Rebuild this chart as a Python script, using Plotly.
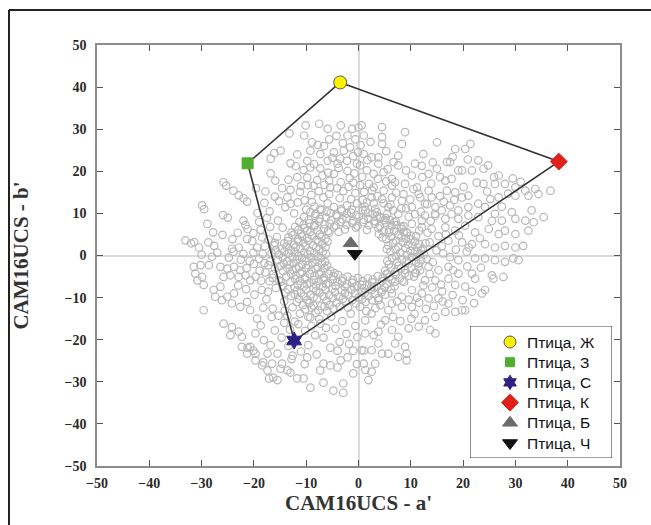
import plotly.graph_objects as go

# ---------------- data ----------------
ring_pts = [
    (-9.2,10.3),(-7.1,10.8),(-5.3,10.1),(-3.2,10.6),(-1.4,10.2),(0.8,10.7),(2.7,9.9),
    (-10.4,9.1),(-8.3,9.4),(-6.2,9.0),(-4.1,9.3),(-2.3,8.8),(0.1,9.2),(1.9,8.7),(4.2,9.0),(6.0,8.4),
    (-11.3,8.0),(-9.4,7.7),(-7.6,8.1),(-5.5,7.6),(-3.4,8.0),(-1.2,7.7),(0.9,7.9),(3.1,7.5),(5.2,7.8),(7.3,7.2),
    (-12.1,6.8),(-10.3,6.5),(-8.5,6.9),(-6.6,6.3),(-4.7,6.7),(-2.6,6.2),(-0.5,6.6),(1.6,6.1),(3.8,6.5),(5.9,6.0),(8.1,6.4),
    (-12.8,5.5),(-11.0,5.2),(-9.2,5.6),(-7.4,5.0),(-5.6,5.4),(3.9,5.1),(5.8,5.5),(7.6,4.9),(9.3,5.3),
    (-13.4,4.3),(-11.6,3.9),(-9.8,4.2),(-8.0,3.7),(-6.3,4.0),
    (-14.2,2.9),(-12.4,2.6),(-10.5,3.0),(-8.7,2.4),(-6.9,2.8),
    (-14.6,1.6),(-12.9,1.3),(-11.1,1.7),(-9.3,1.1),(-7.5,1.5),
    (-15.2,0.2),(-13.3,0.5),(-11.5,-0.1),(-9.7,0.3),(-7.8,-0.2),(-6.2,0.4),
    (-15.4,-1.1),(-13.6,-1.4),(-11.8,-0.9),(-10.0,-1.3),(-8.2,-1.0),(-6.4,-1.5),
    (-15.0,-2.5),(-13.2,-2.2),(-11.4,-2.7),(-9.6,-2.3),(-7.8,-2.8),(-6.0,-2.4),
    (-14.4,-3.7),(-12.6,-3.4),(-10.8,-3.9),(-9.0,-3.5),(-7.2,-4.0),(-5.4,-3.6),
    (-13.8,-5.0),(-12.0,-4.7),(-10.2,-5.2),(-8.4,-4.8),(-6.6,-5.3),(-4.8,-4.9),(-3.0,-5.4),(-1.1,-5.8),(0.8,-6.1),(2.7,-5.7),(4.6,-5.3),
    (-13.0,-6.3),(-11.2,-6.0),(-9.4,-6.5),(-7.6,-6.1),(-5.8,-6.6),(-4.0,-6.2),(-2.2,-6.8),(-0.3,-7.2),(1.6,-6.9),(3.5,-7.3),(5.4,-6.8),(7.0,-6.2),
    (-12.2,-7.6),(-10.4,-7.3),(-8.6,-7.8),(-6.8,-7.4),(-5.0,-7.9),(-3.2,-8.3),(-1.3,-8.1),(0.6,-8.6),(2.5,-8.2),(4.4,-8.7),(6.2,-8.0),
    (-11.0,-8.9),(-9.2,-9.3),(-7.4,-8.8),(-5.6,-9.4),(-3.8,-9.8),(-1.9,-9.5),(0.0,-10.0),(1.9,-9.6),(3.8,-10.1),
    (-9.8,-10.6),(-7.9,-10.2),(-6.1,-10.8),(-4.2,-11.2),(-2.4,-10.9),(-0.5,-11.4),(1.4,-11.0),
    (5.3,3.9),(7.2,3.5),(9.1,4.0),(10.8,3.3),
    (5.7,2.4),(7.6,2.1),(9.5,2.6),(11.3,1.9),
    (6.1,0.9),(8.0,0.6),(9.9,1.1),(11.7,0.4),
    (6.4,-0.6),(8.3,-0.9),(10.2,-0.4),(12.0,-1.1),
    (5.8,-2.1),(7.7,-2.4),(9.6,-1.9),(11.5,-2.6),
    (5.1,-3.6),(7.0,-3.9),(8.9,-3.4),(10.8,-4.1),
    (6.0,-5.0),(7.9,-5.4),(9.6,-4.8),
    (-14.8,-6.2),(-13.5,-8.0),(-12.9,-9.6),(-11.4,-10.3),(-10.6,-11.8),(-9.0,-12.4),(-8.2,-13.6),(-7.1,-12.0),
    (-6.0,-13.2),(-4.8,-12.6),(-16.3,-4.4),(-17.0,-6.1),(-15.8,-7.7),(-14.2,-10.9),(-12.6,-12.3),(-11.2,-13.8),
    (-9.6,-14.6),(-7.5,-15.1),(-17.2,-2.3),(-16.6,0.5),(-17.8,-4.0),
]

ring_inner_pts = [
    (-8.2,9.9),(-6.1,10.4),(-4.2,9.7),(-2.2,10.0),(-0.4,9.6),(1.8,10.1),(3.5,9.4),(5.2,8.9),
    (-9.5,8.5),(-7.4,8.7),(-5.2,8.4),(-3.1,8.6),(-1.0,8.3),(1.0,8.5),(3.0,8.2),(5.0,8.4),(6.8,7.9),
    (-10.5,7.3),(-8.4,7.2),(-6.5,7.4),(-4.4,7.1),(-2.3,7.3),(-0.2,7.0),(2.0,7.2),(4.1,7.0),(6.3,7.1),(8.2,6.8),
    (-11.5,6.1),(-9.8,5.9),(-7.9,6.0),(-5.8,5.8),(-3.8,5.6),(4.8,5.7),(6.8,5.8),(8.6,5.6),(10.0,4.7),
    (-12.6,4.8),(-10.8,4.5),(-8.9,4.7),(-7.1,4.4),
    (-13.5,3.4),(-11.5,3.3),(-9.6,3.5),(-7.7,3.2),(-5.9,3.3),
    (-13.8,2.1),(-12.0,2.0),(-10.1,2.2),(-8.1,1.9),(-6.3,2.0),
    (-14.2,0.9),(-12.2,0.8),(-10.4,0.7),(-8.5,0.6),(-6.8,0.9),
    (-14.5,-0.5),(-12.6,-0.4),(-10.8,-0.6),(-9.0,-0.5),(-7.2,-0.6),
    (-14.3,-1.9),(-12.4,-1.8),(-10.7,-2.0),(-8.8,-1.7),(-7.0,-1.9),
    (-13.6,-3.0),(-11.9,-3.1),(-10.0,-3.0),(-8.2,-3.2),(-6.5,-3.0),(-4.6,-4.2),
    (-12.9,-4.4),(-11.1,-4.3),(-9.3,-4.4),(-7.5,-4.5),(-5.7,-4.4),(-3.9,-4.6),(-2.1,-5.0),(-0.1,-5.3),(1.8,-5.4),(3.7,-4.9),(5.5,-4.5),
    (-12.1,-5.6),(-10.3,-5.7),(-8.5,-5.8),(-6.7,-5.9),(-4.9,-5.7),(-3.1,-6.1),(-1.2,-6.5),(0.7,-7.0),(2.6,-6.4),(4.5,-6.1),(6.3,-5.7),(8.4,-6.0),
    (-11.6,-6.9),(-9.9,-6.8),(-8.1,-7.1),(-6.2,-6.8),(-4.4,-7.2),(-2.6,-7.5),(-0.8,-7.6),(1.1,-7.8),(3.0,-7.6),(5.0,-7.5),(6.9,-7.3),
    (-11.7,-8.3),(-10.0,-8.1),(-8.1,-8.4),(-6.3,-8.2),(-4.5,-8.7),(-2.6,-8.9),(-0.7,-9.0),(1.2,-8.9),(3.1,-9.2),(5.1,-9.3),
    (-10.4,-9.7),(-8.6,-9.9),(-6.7,-9.7),(-4.9,-10.1),(-3.0,-10.3),(-1.2,-10.6),(0.7,-10.4),(2.6,-10.6),
    (4.6,4.3),(6.3,4.5),(8.2,4.3),(10.0,3.8),(11.6,2.7),
    (6.6,3.0),(8.5,3.1),(10.3,2.2),(12.0,1.2),
    (5.4,1.5),(7.1,1.4),(9.0,1.7),(10.8,0.9),
    (7.2,-0.1),(9.2,0.1),(11.1,-0.3),(12.5,0.2),
    (5.5,-1.3),(7.4,-1.5),(9.2,-1.2),(11.0,-1.6),
    (6.2,-2.9),(8.1,-3.1),(10.1,-2.9),(11.8,-3.5),
    (5.4,-4.3),(7.1,-4.6),(8.9,-4.2),(10.6,-5.0),(8.7,-6.3),
    (-16.0,-3.1),(-16.4,-5.3),(-15.2,-5.9),(-14.5,-7.2),(-13.9,-8.8),(-12.2,-9.2),(-11.8,-11.1),(-10.2,-12.8),
    (-9.4,-11.3),(-8.6,-11.9),(-7.7,-13.0),(-6.5,-12.1),(-5.5,-11.8),(-3.6,-12.2),(-2.0,-12.4),(-16.9,-1.4),
    (-15.8,1.2),(-16.1,2.4),
]

upper_left_pts = [
    (-10.1,30.9),(-7.5,31.3),(-5.9,30.1),(-3.4,30.9),(-1.2,30.1),
    (-13.2,29.0),(-10.4,28.5),(-8.9,26.9),(-7.8,26.3),(-5.6,27.6),(-4.2,28.4),(-2.1,28.5),(-0.6,27.6),
    (-14.9,24.9),(-16.1,24.3),(-11.7,24.0),(-9.2,24.9),(-7.3,24.1),(-4.7,24.5),(-2.8,24.9),(-1.0,23.6),
    (-16.8,23.0),(-9.8,22.5),(-8.5,21.7),(-5.9,22.5),(-4.0,21.8),(-2.2,22.5),(-0.3,21.8),
    (-13.0,21.9),(-12.0,21.2),(-10.5,20.3),(-9.2,20.9),(-7.3,20.7),(-5.8,19.7),(-3.8,20.8),(-2.1,20.1),(-0.8,19.5),
    (-16.8,19.5),(-15.9,17.8),(-13.4,18.0),(-11.7,18.6),(-9.8,18.5),(-7.9,17.9),(-5.6,17.7),(-3.4,17.4),(-1.0,17.3),
    (-13.0,15.6),(-11.2,15.1),(-9.7,16.7),(-7.6,15.3),(-5.4,16.2),(-2.9,15.3),(-0.6,14.8),
    (-13.6,13.8),(-10.3,13.1),(-8.4,11.6),(-6.7,13.8),(-4.7,11.5),(-2.2,11.9),(-0.3,12.4),(-7.3,11.1),(-10.0,10.9),(-13.0,12.3),
    (-25.8,17.4),(-25.3,16.6),(-23.9,15.4),(-22.9,14.3),(-22.0,13.6),(-21.3,12.8),
    (-29.9,11.9),(-29.5,11.0),(-25.9,9.6),(-25.0,9.0),(-22.0,8.3),(-21.6,7.2),(-21.2,6.3),
    (-19.3,10.1),(-17.0,10.5),(-15.4,8.3),(-14.5,6.6),(-15.6,4.4),(-16.9,6.8),
    (-33.1,3.6),(-32.0,2.9),(-30.5,1.9),(-28.7,3.1),(-27.6,2.3),(-27.0,0.7),(-31.4,3.2),
    (-24.2,1.6),(-22.9,1.9),(-23.9,0.9),(-22.0,0.4),(-20.1,0.7),(-18.3,0.4),(-21.3,3.9),(-20.3,3.4),
    (-18.4,4.3),(-17.2,3.8),(-16.0,3.0),
    (-19.0,8.0),(-18.0,12.5),(-16.0,14.0),(-11.0,16.5),(-12.3,10.0),(-14.0,11.5),(-17.8,15.2),(-19.6,16.0),
    (-6.6,26.0),(-3.0,26.7),(-1.6,25.7),(-5.0,23.2),(-3.5,23.0),(-6.9,19.0),(-4.7,19.4),(-1.7,18.4),
    (-8.6,16.6),(-6.5,16.8),(-4.1,16.0),(-1.9,16.3),(-9.0,14.4),(-5.6,14.6),(-3.6,13.6),(-1.4,13.4),
    (-11.6,12.6),(-8.9,12.7),(-5.9,12.4),(-3.3,11.0),(-1.3,10.9),
    (-14.6,16.0),(-15.2,12.9),(-17.5,8.9),(-18.7,6.1),(-20.1,5.3),(-23.1,5.4),(-24.1,3.9),(-26.0,4.9),
    (-27.8,5.5),(-28.9,7.5),(-17.9,2.2),(-19.4,1.9),
]

upper_right_pts = [
    (0.0,30.4),(0.6,30.9),(4.5,30.5),(1.0,28.5),(4.5,28.1),(8.9,29.3),(4.5,26.5),(8.3,26.5),(15.0,26.9),
    (18.5,25.3),(20.4,25.3),(21.4,26.5),(3.8,23.3),(7.6,23.7),(12.4,24.1),(1.0,24.1),(2.5,23.3),(0.3,21.4),
    (3.8,21.8),(6.7,22.2),(7.6,21.4),(10.8,21.8),(16.9,22.2),(17.5,22.2),(19.1,20.2),(19.8,20.2),
    (21.7,20.2),(22.9,22.6),(23.9,20.6),(26.8,19.0),(1.6,20.2),(2.9,19.4),(4.8,19.8),(6.4,18.2),(7.0,17.4),
    (10.2,19.0),(13.4,19.4),(15.6,18.6),(16.6,17.8),(17.8,18.2),(2.9,16.2),(4.8,15.4),(6.4,16.6),
    (8.9,17.0),(10.5,15.8),(11.5,14.6),(13.4,15.4),(14.0,13.8),
    (16.9,15.4),(18.5,15.0),(19.8,13.8),(21.0,14.2),(22.6,17.3),(23.9,17.0),(26.1,17.0),(28.0,17.0),
    (30.0,16.2),(31.9,15.4),(33.8,15.8),(36.7,15.4),(2.5,13.8),(4.5,13.4),(6.4,13.8),(8.3,13.0),
    (10.2,11.5),(12.7,12.3),(14.7,11.5),(15.9,10.7),(17.5,11.9),(19.1,10.7),(21.0,11.5),(22.9,12.3),
    (25.2,13.4),(26.8,13.8),(30.0,14.2),(32.5,14.2),(34.4,14.6),(1.3,10.7),(3.2,11.1),(5.7,11.5),(7.6,9.9),
    (12.7,9.5),(14.7,9.5),(16.6,8.7),(19.1,8.7),(21.0,9.5),(22.9,9.1),(24.2,11.5),(26.1,9.9),(27.4,8.3),
    (29.3,10.3),(30.0,8.7),(31.9,8.3),(33.1,10.7),(33.5,7.9),(35.4,9.1),
    (10.2,7.5),(12.1,6.7),(14.0,6.3),(16.6,6.7),(18.5,5.9),(20.4,7.1),(22.3,5.5),(24.9,6.3),(26.8,5.1),
    (28.0,5.9),(30.0,5.1),(32.5,5.9),(17.2,3.5),(19.8,3.1),(21.7,2.7),(24.2,2.7),(26.1,1.9),(28.0,2.3),
    (30.0,1.9),(31.5,2.3),
    (2.0,17.0),(5.3,17.6),(1.1,15.1),(3.6,14.1),(6.1,12.1),(8.6,14.6),(9.1,11.2),(1.6,12.6),(4.1,9.1),
    (7.1,8.1),(9.6,9.2),(11.0,4.6),(12.1,8.3),(13.1,12.2),(11.2,16.2),(9.1,20.2),(12.1,21.3),(14.2,22.1),
    (13.6,3.1),(15.3,4.6),(14.9,1.2),(12.3,1.6),(16.2,0.5),(18.6,1.4),(20.7,0.9),(23.2,4.1),(11.8,13.8),
    (15.6,14.1),(17.8,9.8),(18.3,13.2),(20.1,16.3),(24.6,15.2),(27.4,11.6),(28.6,14.7),(25.5,8.2),
    (0.4,26.2),(2.3,27.0),(-0.1,24.5),(1.7,22.7),(5.3,24.8),(0.7,18.7),(3.7,18.2),(5.6,20.5),
    (0.3,16.7),(2.6,15.4),(0.8,13.2),(2.9,12.4),(4.8,12.4),(1.2,11.6),(3.5,10.3),(5.5,9.9),(6.6,10.7),
    (8.2,11.2),(7.2,14.9),(9.9,13.3),(10.8,9.8),(8.6,7.0),(9.2,5.5),(11.9,10.4),(13.8,8.2),(11.6,5.9),
    (12.8,2.9),(15.9,2.2),(16.7,5.0),(19.2,4.8),(13.2,5.4),(14.6,9.9),(16.3,12.8),(13.9,17.1),(12.2,18.6),
    (15.0,20.6),(18.0,23.4),(20.9,22.8),(24.8,21.4),(25.9,18.6),(29.5,18.3),(31.0,17.5),(21.1,1.9),
]

lower_left_pts = [
    (-31.5,-2.7),(-30.2,-2.3),(-28.6,-2.3),(-31.2,-4.3),(-29.9,-5.1),(-30.8,-5.9),(-29.6,-7.0),
    (-26.4,-2.7),(-25.1,-3.1),(-23.8,-2.7),(-22.6,-3.5),(-25.8,-5.1),(-24.5,-4.7),(-22.9,-5.1),(-21.6,-4.7),(-20.7,-5.9),
    (-27.7,-8.2),(-26.4,-7.4),(-27.4,-9.8),(-26.1,-10.6),(-29.6,-13.0),
    (-25.1,-9.8),(-23.8,-9.0),(-24.2,-11.4),(-22.6,-12.2),(-21.3,-11.0),(-20.7,-13.0),
    (-25.8,-16.2),(-24.2,-17.0),(-22.9,-18.1),(-24.5,-18.9),(-22.3,-19.3),
    (-22.3,-21.7),(-21.3,-23.3),(-19.7,-24.9),(-18.4,-26.1),
    (-19.4,-15.0),(-18.7,-16.6),(-19.7,-18.5),(-18.1,-20.1),(-16.8,-21.3),
    (-20.7,-21.7),(-19.7,-23.3),(-17.4,-23.3),(-15.5,-23.3),(-16.5,-25.7),(-14.6,-25.7),(-14.9,-26.9),
    (-17.1,-29.2),(-15.5,-29.6),(-13.6,-27.3),(-11.7,-29.2),
    (-16.3,-29.0),(-17.4,-27.3),(-18.2,-25.4),(-20.1,-22.6),(-21.2,-21.9),
    (-18.5,-8.2),(-17.6,-10.4),(-16.4,-12.6),(-15.3,-14.3),(-14.2,-16.0),(-13.1,-17.6),(-11.5,-16.3),
    (-10.2,-17.9),(-9.0,-16.8),(-8.3,-18.9),(-16.0,-17.8),(-14.7,-19.5),(-13.4,-21.5),(-11.0,-22.8),
    (-9.6,-21.3),(-8.0,-23.5),(-12.8,-24.6),(-10.3,-25.8),(-19.9,-9.3),(-21.5,-8.0),(-23.0,-7.1),
    (-18.6,-6.0),(-20.0,-2.0),(-19.0,-0.8),(-22.5,-1.0),(-24.8,-0.5),(-28.0,-0.3),(-30.0,0.2),
    (-18.9,-3.6),(-19.7,-5.0),(-18.0,-1.8),(-20.8,-1.3),(-21.4,-3.0),(-17.3,-8.6),(-18.2,-12.4),
    (-16.6,-14.6),(-13.6,-14.3),(-12.2,-15.7),(-14.1,-13.1),
]

lower_mid_pts = [
    (-9.2,-14.7),(-7.3,-16.2),(-6.7,-19.5),(-5.4,-21.9),(-4.0,-22.6),(-3.4,-24.9),(-2.1,-24.2),(-1.0,-22.6),(1.0,-22.6),
    (-9.8,-24.2),(-6.7,-25.7),(-7.3,-27.3),(-5.4,-26.1),(-4.0,-26.6),(-2.9,-30.4),(-4.8,-32.1),(-6.7,-30.2),
    (-9.2,-31.4),(-10.5,-29.2),(-13.0,-27.8),(-12.6,-23.8),
    (-5.2,-14.5),(-3.1,-15.6),(-1.5,-13.8),(-4.4,-17.4),(-2.3,-18.6),(-0.6,-16.7),(-6.2,-17.2),(-3.6,-20.5),
    (-1.8,-21.0),(-0.2,-19.4),(-2.9,-32.6),(-1.0,-28.0),(-0.3,-25.8),
]

lower_right_pts = [
    (22.3,-0.7),(24.2,-0.7),(26.1,-1.1),(28.0,-1.5),(29.6,-0.7),(30.6,-1.1),
    (19.1,-1.1),(17.2,-2.7),(15.3,-3.5),(13.4,-2.7),(11.5,-1.9),
    (21.7,-4.3),(22.3,-5.5),(25.5,-4.7),(25.8,-5.5),(27.7,-5.1),
    (12.7,-5.9),(14.7,-5.9),(17.2,-5.5),(19.1,-4.3),(18.5,-7.0),(20.4,-7.4),(21.7,-8.6),(23.6,-9.0),(24.2,-8.2),
    (10.2,-8.2),(12.1,-9.0),(13.4,-10.2),(15.3,-10.2),(17.2,-11.4),(19.8,-13.0),(20.4,-13.0),(16.6,-13.4),(18.5,-13.4),
    (6.4,-11.4),(8.3,-12.2),(10.2,-12.2),(12.7,-15.4),(14.7,-14.6),(13.7,-17.7),(14.7,-18.5),(11.5,-16.9),(9.6,-17.3),
    (5.1,-15.4),(6.4,-17.7),(7.6,-19.3),(7.0,-20.9),(8.9,-21.7),(9.2,-23.3),(9.2,-24.9),(7.6,-24.1),(5.7,-23.3),
    (3.8,-20.9),(4.5,-23.3),(3.2,-25.7),(2.5,-27.6),(1.9,-29.6),(1.3,-27.2),(1.0,-25.7),(2.5,-22.5),
    (1.3,-18.5),(2.9,-18.9),(3.8,-18.1),(0.6,-22.5),
    (2.5,-7.4),(4.5,-8.2),(6.4,-9.0),(8.3,-9.8),(3.8,-10.6),(5.7,-13.0),(2.5,-13.8),(1.3,-15.4),(0.3,-12.2),
    (14.1,-7.6),(16.0,-8.5),(11.0,-4.2),(13.0,-0.8),(10.7,-13.9),(8.0,-15.6),(4.3,-16.4),
    (4.2,-11.8),(7.4,-10.9),(9.6,-10.5),(11.6,-11.2),(12.9,-12.7),(3.2,-12.5),(1.5,-13.2),(6.6,-14.6),(10.1,-15.0),
    (14.2,-1.6),(17.5,-0.4),(13.6,-4.4),(15.8,-6.9),(12.4,-7.1),(11.2,-10.0),(14.4,-12.0),(16.1,-10.9),
    (18.0,-9.4),(19.9,-10.6),(22.1,-11.3),(20.8,-2.6),(23.4,-2.9),(18.1,-3.5),
]

bird_names = ["Птица, Ж", "Птица, З", "Птица, С", "Птица, К", "Птица, Б", "Птица, Ч"]
bird_a = [-3.5, -21.2, -12.3, 38.3, -1.5, -0.7]
bird_b = [41.1, 21.9, -20.2, 22.3, 2.9, 0.4]
bird_colors = ["#fff000", "#4fae2e", "#2e2083", "#e0201a", "#6b6b6b", "#111111"]
bird_symbols = ["circle", "square", "hexagram", "diamond", "triangle-up", "triangle-down"]
bird_sizes = [13, 11, 13, 13, 13, 13]
legend_sizes = [12, 9, 11, 13, 13, 13]
gamut_order = [0, 3, 2, 1, 0]  # Ж -> К -> С -> З -> Ж

# ---------------- geometry (pixels in the 651x525 view) ----------------
PLOT_L, PLOT_R, PLOT_T, PLOT_B = 97, 620, 45, 466
W, H = 651, 525
LEG_L, LEG_R, LEG_T, LEG_B = 470, 612, 326, 458
LEG_ROW0, LEG_STEP, LEG_MX, LEG_TX = 342, 20.2, 510, 525

pw, ph = PLOT_R - PLOT_L, PLOT_B - PLOT_T
def px(x): return (x - PLOT_L) / pw
def py(y): return (PLOT_B - y) / ph

grey = ring_pts + ring_inner_pts + upper_left_pts + upper_right_pts + lower_left_pts + lower_mid_pts + lower_right_pts

fig = go.Figure()
fig.add_trace(go.Scatter(
    x=[p[0] for p in grey], y=[p[1] for p in grey], mode="markers",
    marker=dict(symbol="circle-open", size=7.5, color="#b8b8b8", line=dict(width=1.2)),
    showlegend=False, hoverinfo="skip"))
fig.add_trace(go.Scatter(
    x=[bird_a[i] for i in gamut_order], y=[bird_b[i] for i in gamut_order], mode="lines",
    line=dict(color="#333333", width=1.6), showlegend=False, hoverinfo="skip"))
for i, name in enumerate(bird_names):
    fig.add_trace(go.Scatter(
        x=[bird_a[i]], y=[bird_b[i]], mode="markers", name=name, showlegend=False,
        marker=dict(symbol=bird_symbols[i], size=bird_sizes[i], color=bird_colors[i],
                    line=dict(color="#555555" if i == 0 else bird_colors[i], width=1))))

# legend drawn in its own small overlay axes (box, symbols, labels)
fig.add_trace(go.Scatter(
    x=[LEG_L, LEG_R, LEG_R, LEG_L, LEG_L], y=[LEG_T, LEG_T, LEG_B, LEG_B, LEG_T],
    mode="lines", fill="toself", fillcolor="white", line=dict(color="#444444", width=1.2),
    xaxis="x2", yaxis="y2", showlegend=False, hoverinfo="skip"))
leg_y = [LEG_ROW0 + LEG_STEP * i for i in range(len(bird_names))]
for i, name in enumerate(bird_names):
    fig.add_trace(go.Scatter(
        x=[LEG_MX], y=[leg_y[i]], mode="markers", xaxis="x2", yaxis="y2",
        showlegend=False, hoverinfo="skip",
        marker=dict(symbol=bird_symbols[i], size=legend_sizes[i], color=bird_colors[i],
                    line=dict(color="#555555" if i == 0 else bird_colors[i], width=1))))
annotations = [dict(x=LEG_TX, y=leg_y[i], xref="x2", yref="y2", text=name, showarrow=False,
                    xanchor="left", yanchor="middle",
                    font=dict(family="Liberation Sans, Arial, sans-serif", size=15.5, color="#111111"))
               for i, name in enumerate(bird_names)]

serif = "Liberation Serif, Times New Roman, serif"
axis_common = dict(
    range=[-50, 50], dtick=10, tick0=-50, showgrid=False,
    zeroline=True, zerolinecolor="#dcdcdc", zerolinewidth=1.5,
    showline=True, linecolor="#8c8c8c", linewidth=1.5, mirror="ticks",
    ticks="inside", ticklen=6, tickcolor="#555555", tickwidth=1,
    tickfont=dict(family=serif, size=14, color="#2a2a2a"),
    tickprefix="<b>", ticksuffix="</b>",
)
fig.update_layout(
    width=W, height=H,
    margin=dict(l=PLOT_L, r=W - PLOT_R, t=PLOT_T, b=H - PLOT_B),
    plot_bgcolor="white", paper_bgcolor="white",
    showlegend=False,
    xaxis=dict(**axis_common, ticklabelstandoff=3,
               title=dict(text="<b>CAM16UCS - a'</b>", standoff=4,
                          font=dict(family=serif, size=21, color="#333333"))),
    yaxis=dict(**axis_common, ticklabelstandoff=6,
               title=dict(text="<b>CAM16UCS - b'</b>", standoff=30,
                          font=dict(family=serif, size=21, color="#333333"))),
    xaxis2=dict(domain=[px(LEG_L), px(LEG_R)], range=[LEG_L, LEG_R], visible=False,
                anchor="y2", fixedrange=True),
    yaxis2=dict(domain=[py(LEG_B), py(LEG_T)], range=[LEG_B, LEG_T], visible=False,
                anchor="x2", fixedrange=True),
    annotations=annotations,
    shapes=[
        dict(type="line", xref="paper", yref="paper", x0=px(9), x1=px(W + 40), y0=py(10), y1=py(10),
             line=dict(color="#222222", width=2)),
        dict(type="line", xref="paper", yref="paper", x0=px(9), x1=px(9), y0=py(10), y1=py(H + 40),
             line=dict(color="#222222", width=2)),
    ],
)
# the page itself gets no margin and no scrollbars, so the figure fills the 651x525 view
page_js = ("document.documentElement.style.overflow='hidden';"
           "document.body.style.margin='0';document.body.style.overflow='hidden';")
fig.write_html("out.html", post_script=page_js, config={"displayModeBar": False})
